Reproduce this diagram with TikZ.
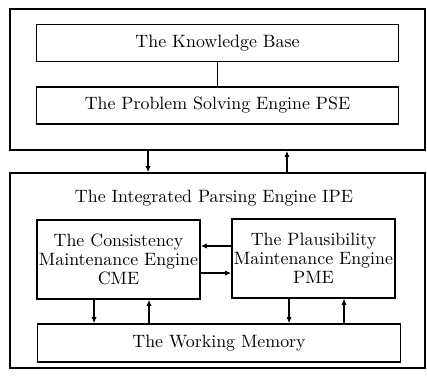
\documentclass[tikz,border=0pt]{standalone}
\usepackage{tikz}
\usetikzlibrary{arrows.meta}

\begin{document}
\begin{tikzpicture}[x=0.56pt,y=-0.56pt,line width=0.8pt,
	>={Latex[length=3.5pt,width=3pt]},
	frame_node/.style={rectangle,draw,minimum width=232.4pt,inner sep=0pt},
	wide_node/.style={rectangle,draw,minimum width=203pt,minimum height=20.5pt,inner sep=0pt},
	engine_node/.style={rectangle,draw,minimum width=91.3pt,minimum height=44.2pt,inner sep=0pt,align=center,font={\fontsize{10}{10.8}\selectfont}}]
	\useasboundingbox (0,0) rectangle (427,377);

	\node[frame_node,minimum height=79pt] (top) at (217.5,79.5) {};
	\node[wide_node] (kb) at (217.5,43) {The Knowledge Base};
	\node[wide_node] (pse) at (217.5,105.5) {The Problem Solving Engine PSE};

	\node[frame_node,minimum height=109.2pt] (ipe) at (217.5,270.5) {};
	\node (ipe_title) at (214,198) {The Integrated Parsing Engine IPE};
	\node[engine_node] (cme) at (118.5,259.5) {The Consistency\\Maintenance Engine\\CME};
	\node[engine_node] (pme) at (313.5,258.5) {The Plausibility\\Maintenance Engine\\PME};
	\node[wide_node,minimum height=21.3pt] (wm) at (219,343) {The Working Memory};

	\draw (kb) -- (pse);
	\draw[->] ([xshift=-38.9pt]top.south) -- ([xshift=-38.9pt]top.south |- ipe.north);
	\draw[<-] ([xshift=38.9pt]top.south) -- ([xshift=38.9pt]top.south |- ipe.north);

	\draw[->] ([yshift=7pt]pme.west) -- ([yshift=7pt]pme.west -| cme.east);
	\draw[->] ([yshift=-7.6pt]cme.east) -- ([yshift=-7.6pt]cme.east -| pme.west);

	\draw[->] ([xshift=-13.7pt]cme.south) -- ([xshift=-13.7pt]cme.south |- wm.north);
	\draw[<-] ([xshift=17.1pt]cme.south) -- ([xshift=17.1pt]cme.south |- wm.north);
	\draw[->] ([xshift=-13.7pt]pme.south) -- ([xshift=-13.7pt]pme.south |- wm.north);
	\draw[<-] ([xshift=17.1pt]pme.south) -- ([xshift=17.1pt]pme.south |- wm.north);
\end{tikzpicture}
\end{document}
